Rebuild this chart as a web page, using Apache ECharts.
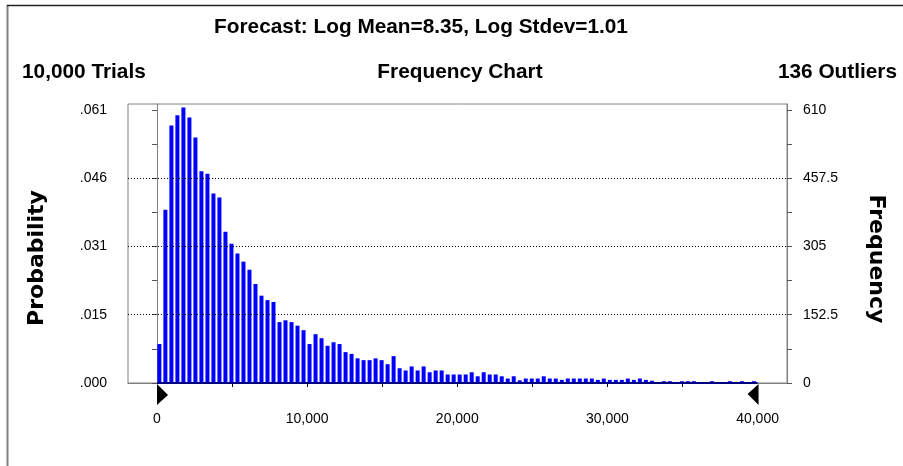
<!DOCTYPE html>
<html>
<head>
<meta charset="utf-8">
<script src="https://cdn.jsdelivr.net/npm/echarts@6/dist/echarts.min.js"></script>
<style>
html,body{margin:0;padding:0;background:#fff;}
#chart{width:903px;height:466px;}
</style>
</head>
<body>
<div id="chart"></div>
<script>
// ---- data ----
const binWidth = 400;              // each bin spans 400 units, 100 bins from 0 to 40,000
const frequency = [
  87,387,575,598,615,593,548,473,467,423,
  414,338,311,289,271,253,221,195,185,181,
  136,140,136,128,118,87,109,100,83,91,
  87,69,65,55,51,51,55,51,42,60,
  33,28,37,28,37,24,28,28,19,19,
  19,19,24,15,24,19,19,15,10,15,
  6,10,10,10,15,10,10,7,10,10,
  10,10,10,7,10,7,7,7,10,7,
  10,7,5,0,4,4,0,4,4,4,
  0,0,4,0,0,4,0,4,0,4
];
const freqTicks = [0, 152.5, 305, 457.5, 610];
const freqLabels = ['0', '152.5', '305', '457.5', '610'];
const probLabels = ['.000', '.015', '.031', '.046', '.061'];
const xTicks = [0, 10000, 20000, 30000, 40000];
const xLabels = ['0', '10,000', '20,000', '30,000', '40,000'];
const xMinorTicks = [5000, 10000, 15000, 20000, 25000, 30000, 35000];
const rangeMarks = [0, 40000];
const titleText = 'Forecast: Log Mean=8.35, Log Stdev=1.01';
const trialsText = '10,000 Trials';
const chartText = 'Frequency Chart';
const outliersText = '136 Outliers';

// ---- build ----
const barData = frequency.map((f, i) => [i * binWidth + binWidth * 0.4, f]);
const halfTicks = [];
for (let i = 0; i < freqTicks.length - 1; i++) {
  halfTicks.push(freqTicks[i], (freqTicks[i] + freqTicks[i + 1]) / 2);
}
halfTicks.push(freqTicks[freqTicks.length - 1]);

const FONT = "'Liberation Sans', Arial, sans-serif";
const chart = echarts.init(document.getElementById('chart'), null, {renderer: 'canvas'});

function yAxisDef(pos, labels, margin) {
  return {
    type: 'value', position: pos, min: 0, max: 623,
    axisLine: {show: true, lineStyle: {color: '#808080', width: 1}},
    axisTick: {show: true, inside: false, length: 5, customValues: halfTicks, lineStyle: {color: '#555'}},
    axisLabel: {
      customValues: freqTicks, margin: margin,
      fontFamily: FONT, fontSize: 14, color: '#000',
      formatter: v => labels[freqTicks.indexOf(v)]
    },
    splitLine: {show: false}
  };
}

const titleStyle = {fontFamily: FONT, fontWeight: 'bold', fontSize: 20.8, color: '#000'};

chart.setOption({
  animation: false,
  backgroundColor: '#fff',
  title: [
    {text: titleText, left: 421, top: 17, padding: 0, textAlign: 'center', textStyle: titleStyle},
    {text: trialsText, left: 22, top: 62, padding: 0, textStyle: titleStyle},
    {text: chartText, left: 460, top: 62, padding: 0, textAlign: 'center', textStyle: titleStyle},
    {text: outliersText, right: 6, top: 62, padding: 0, textStyle: titleStyle}
  ],
  grid: {left: 128, right: 116, top: 104, bottom: 83, show: true,
         borderColor: '#808080', borderWidth: 1, backgroundColor: 'transparent'},
  xAxis: {
    type: 'value', min: -1930, max: 41960,
    axisLine: {show: true, onZero: false, lineStyle: {color: '#808080', width: 1}},
    axisTick: {show: true, length: 4, customValues: xMinorTicks, lineStyle: {color: '#000'}},
    axisLabel: {
      customValues: xTicks, margin: 29,
      fontFamily: FONT, fontSize: 14, color: '#000',
      formatter: v => xLabels[xTicks.indexOf(v)]
    },
    splitLine: {show: false}
  },
  yAxis: [yAxisDef('left', probLabels, 21), yAxisDef('right', freqLabels, 16)],
  series: [{
    type: 'bar',
    yAxisIndex: 1,
    data: barData,
    barWidth: 4,
    itemStyle: {color: '#0000ff'},
    markLine: {
      silent: true, symbol: 'none', label: {show: false},
      data: [
        ...freqTicks.slice(1, -1).map(v => ({yAxis: v, lineStyle: {color: '#000', type: [1, 2], width: 1}})),
        [{coord: [rangeMarks[0], 0], lineStyle: {color: '#000080', type: 'solid', width: 2}},
         {coord: [rangeMarks[1], 0]}]
      ]
    },
    markPoint: {
      silent: true, label: {show: false},
      data: [
        {coord: [rangeMarks[0], 0], symbol: 'path://M0,0L11,11L0,21Z', symbolSize: [11, 21],
         symbolOffset: [5.5, 11.5], itemStyle: {color: '#000'}},
        {coord: [rangeMarks[1], 0], symbol: 'path://M11,0L0,10L11,21Z', symbolSize: [11, 21],
         symbolOffset: [-4.5, 11.5], itemStyle: {color: '#000'}}
      ]
    }
  }],
  graphic: [
    {type: 'line', shape: {x1: 7.5, y1: 5, x2: 7.5, y2: 466}, style: {stroke: '#808080', lineWidth: 2}},
    {type: 'line', shape: {x1: 7, y1: 5.5, x2: 903, y2: 5.5}, style: {stroke: '#222', lineWidth: 1.5}},
    {type: 'text', x: 37, y: 258, rotation: Math.PI / 2,
     style: {text: 'Probability', fontFamily: "'DejaVu Sans', sans-serif", fontWeight: 'bold', fontSize: 22,
             fill: '#000', align: 'center', verticalAlign: 'middle'}},
    {type: 'text', x: 876, y: 259, rotation: -Math.PI / 2,
     style: {text: 'Frequency', fontFamily: "'DejaVu Sans', sans-serif", fontWeight: 'bold', fontSize: 22,
             fill: '#000', align: 'center', verticalAlign: 'middle'}}
  ]
});
</script>
</body>
</html>
